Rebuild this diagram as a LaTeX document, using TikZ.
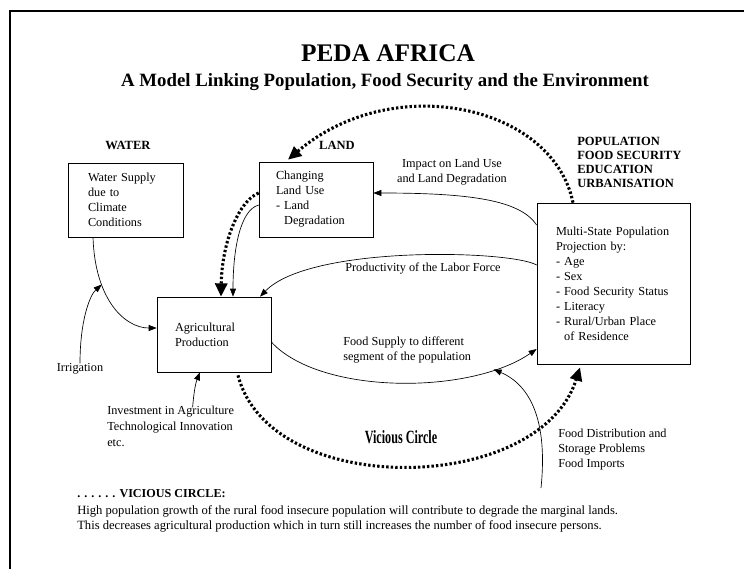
\documentclass[tikz,border=0pt]{standalone}
\usepackage{fontspec}
\setmainfont{Liberation Serif}
\usepackage{graphicx}
\usepackage{tikz}
\usetikzlibrary{arrows.meta,calc}

\newcommand{\bodyfont}{\fontsize{9.2}{11.25}\selectfont}
\tikzset{
	box/.style={draw, line width=0.5pt, align=left, inner ysep=0pt, font=\bodyfont},
	head/.style={font=\fontsize{9.4}{10.7}\selectfont\bfseries, inner sep=0pt},
	label/.style={font=\bodyfont, inner sep=0pt},
	link/.style={line width=0.5pt, -{Triangle[length=6pt,width=4.5pt]}},
	vicious/.style={line width=2.3pt, dash pattern=on 1.8pt off 1.6pt, -{Triangle[length=10pt,width=9pt]}}
}

\begin{document}
\begin{tikzpicture}[x=0.75pt,y=-0.75pt]
	\useasboundingbox (0,0) rectangle (744,569);
	\draw[line width=1.5pt] (744,11) -- (10,11) -- (10,569);
	\node (title) at (388,53) {\fontsize{19}{22}\selectfont\bfseries PEDA AFRICA};
	\node (subtitle) at (385,82) {\fontsize{14.1}{17}\selectfont\bfseries A Model Linking Population, Food Security and the Environment};
	\node[head] (waterhd) at (128,145) {WATER};
	\node[head] (landhd) at (337,145) {LAND};
	\node[head, anchor=west, align=left] (pophd) at (577,162.5) {POPULATION\\FOOD SECURITY\\EDUCATION\\URBANISATION};
	\node[box, minimum width=86.25pt, minimum height=55.5pt, text width=56.25pt, inner xsep=15pt] (water) at (125.5,200) {Water Supply\\due to\\Climate\\Conditions};
	\node[box, minimum width=85.5pt, minimum height=56.25pt, text width=60pt, inner xsep=12.75pt] (land) at (316,199.5) {Changing\\Land Use\\- Land\\\phantom{- }Degradation};
	\node[box, minimum width=85.5pt, minimum height=56.25pt, text width=58.5pt, inner xsep=13.5pt] (agri) at (214,334.5) {Agricultural\\Production};
	\node[box, minimum width=114.75pt, minimum height=120.75pt, text width=86.25pt, inner xsep=14.25pt] (pop) at (613.5,283.5) {Multi-State Population\\Projection by:\\- Age\\- Sex\\- Food Security Status\\- Literacy\\- Rural/Urban Place\\\phantom{- }of Residence};
	\node[label, align=center] (impact) at (452,172) {Impact on Land Use\\and Land Degradation};
	\node[label] (labor) at (423,268) {Productivity of the Labor Force};
	\node[label, anchor=west, align=left] (supply) at (343,350) {Food Supply to different\\segment of the population};
	\node[label] (irrig) at (80,369) {Irrigation};
	\node[label, anchor=west, align=left, font=\fontsize{9.2}{12}\selectfont] (invest) at (107,426) {Investment in Agriculture\\Technological Innovation\\etc.};
	\node[label, anchor=west, align=left] (fdist) at (558,450) {Food Distribution and\\Storage Problems\\Food Imports};
	\node[font=\fontsize{14}{16}\selectfont\bfseries] (vclabel) at (401,437) {\scalebox{0.65}[1]{Vicious Circle}};
	\node[anchor=west, inner sep=0pt, font=\fontsize{9.1}{11}\selectfont\bfseries] (vchead) at (77,494) {.\hspace{3pt}.\hspace{3pt}.\hspace{3pt}.\hspace{3pt}.\hspace{3pt}. VICIOUS CIRCLE:};
	\node[anchor=west, align=left, inner sep=0pt, font=\fontsize{9.45}{11.25}\selectfont] (vctext) at (77,519) {High population growth of the rural food insecure population will contribute to degrade the marginal lands.\\This decreases agricultural production which in turn still increases the number of food insecure persons.};

	\draw[vicious] ($(pop.north)+(-40.5,0)$) .. controls (553,105) and (393,70) .. ($(land.north)+(-28,-2)$);
	\draw[vicious] ($(land.west)+(0,-6.5)$) .. controls (240,200) and (222,240) .. ($(agri.north)+(7,0)$);
	\draw[vicious] ($(agri.south)+(24,3)$) .. controls (270,500) and (540,495) .. ($(pop.south)+(-33.5,3)$);
	\draw[link] ($(land.west)+(0,5.5)$) .. controls (240,210) and (233,250) .. ($(agri.north)+(19,0)$);
	\draw[link] ($(pop.west)+(0,-58.5)$) .. controls (520,200) and (470,193) .. ($(land.east)+(0,-6.5)$);
	\draw[link] ($(pop.west)+(0,-18.5)$) .. controls (510,250) and (310,245) .. ($(agri.north)+(46,0)$);
	\draw[link] ($(agri.east)+(0,7.5)$) .. controls (320,395) and (470,395) .. ($(pop.west)+(0,65.5)$) coordinate[pos=0.82] (supplypt);
	\draw[link] ($(water.south)+(-32.5,0)$) .. controls (95,300) and (125,328) .. ($(agri.west)+(0,-6.5)$) coordinate[pos=0.3] (waterpt);
	\draw[link] (irrig.north) .. controls (80,320) and (90,295) .. (waterpt);
	\draw[link] ($(invest.north)+(22,2)$) .. controls (194,390) and (196,382) .. ($(agri.south)+(-14,0)$);
	\draw[link] ($(fdist.west)+(-17,38)$) .. controls (548,420) and (530,385) .. (supplypt);
\end{tikzpicture}
\end{document}
